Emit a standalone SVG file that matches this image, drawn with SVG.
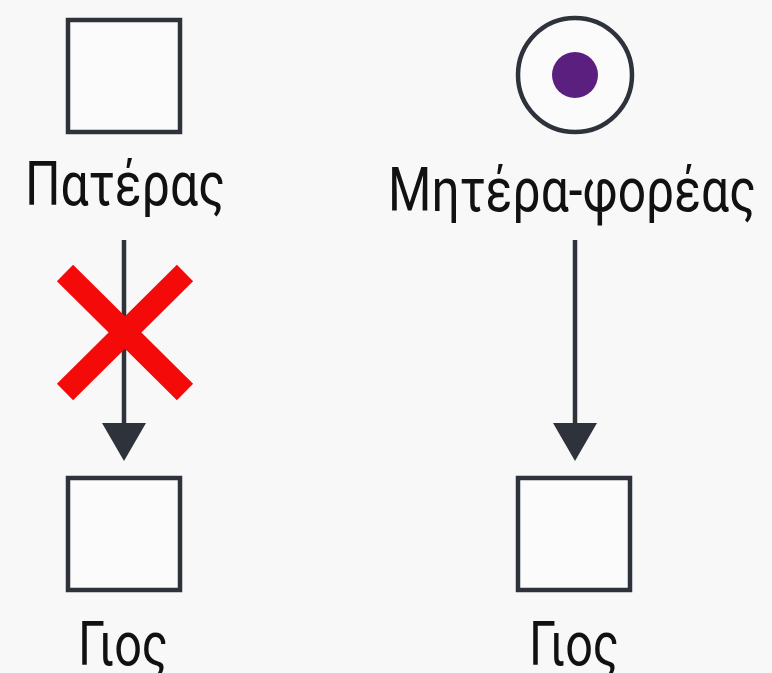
<svg xmlns="http://www.w3.org/2000/svg" width="772" height="673" viewBox="0 0 772 673">
<style>
.box{fill:#fbfbfc;stroke:#2e333b;stroke-width:4.5}
.lbl{font-family:Roboto,"Noto Sans","DejaVu Sans",sans-serif;font-size:61px;fill:#111;text-anchor:middle}
.edge{stroke:#2e333b;stroke-width:4.5;fill:none}
.head{fill:#2e333b}
</style>
<rect width="772" height="673" fill="#f8f8f8"/>
<g id="father">
<rect class="box" x="68" y="20" width="112" height="112"/>
<text class="lbl" x="125" y="205" textLength="200" lengthAdjust="spacingAndGlyphs">Πατέρας</text>
</g>
<g id="mother">
<circle cx="575" cy="75" r="57" fill="#fbfbfc" stroke="#2e333b" stroke-width="4.5"/>
<circle cx="575" cy="75" r="23" fill="#5b1f80"/>
<text class="lbl" x="572" y="211" font-size="63" textLength="368" lengthAdjust="spacingAndGlyphs">Μητέρα-φορέας</text>
</g>
<g id="son1">
<rect class="box" x="68" y="478" width="112" height="112"/>
<text class="lbl" x="123" y="665" textLength="90" lengthAdjust="spacingAndGlyphs">Γιος</text>
</g>
<g id="son2">
<rect class="box" x="518" y="478" width="112" height="112"/>
<text class="lbl" x="574" y="665" textLength="90" lengthAdjust="spacingAndGlyphs">Γιος</text>
</g>
<g id="connectors">
<line class="edge" x1="124" y1="240" x2="124" y2="424"/>
<polygon class="head" points="102,423 146,423 124,461"/>
<line class="edge" x1="575" y1="240" x2="575" y2="424"/>
<polygon class="head" points="553,423 597,423 575,461"/>
</g>
<g id="cross" stroke="#f50a0a" stroke-width="23" stroke-linecap="butt">
<line x1="65" y1="273" x2="185" y2="392"/>
<line x1="185" y1="273" x2="65" y2="392"/>
</g>
</svg>
